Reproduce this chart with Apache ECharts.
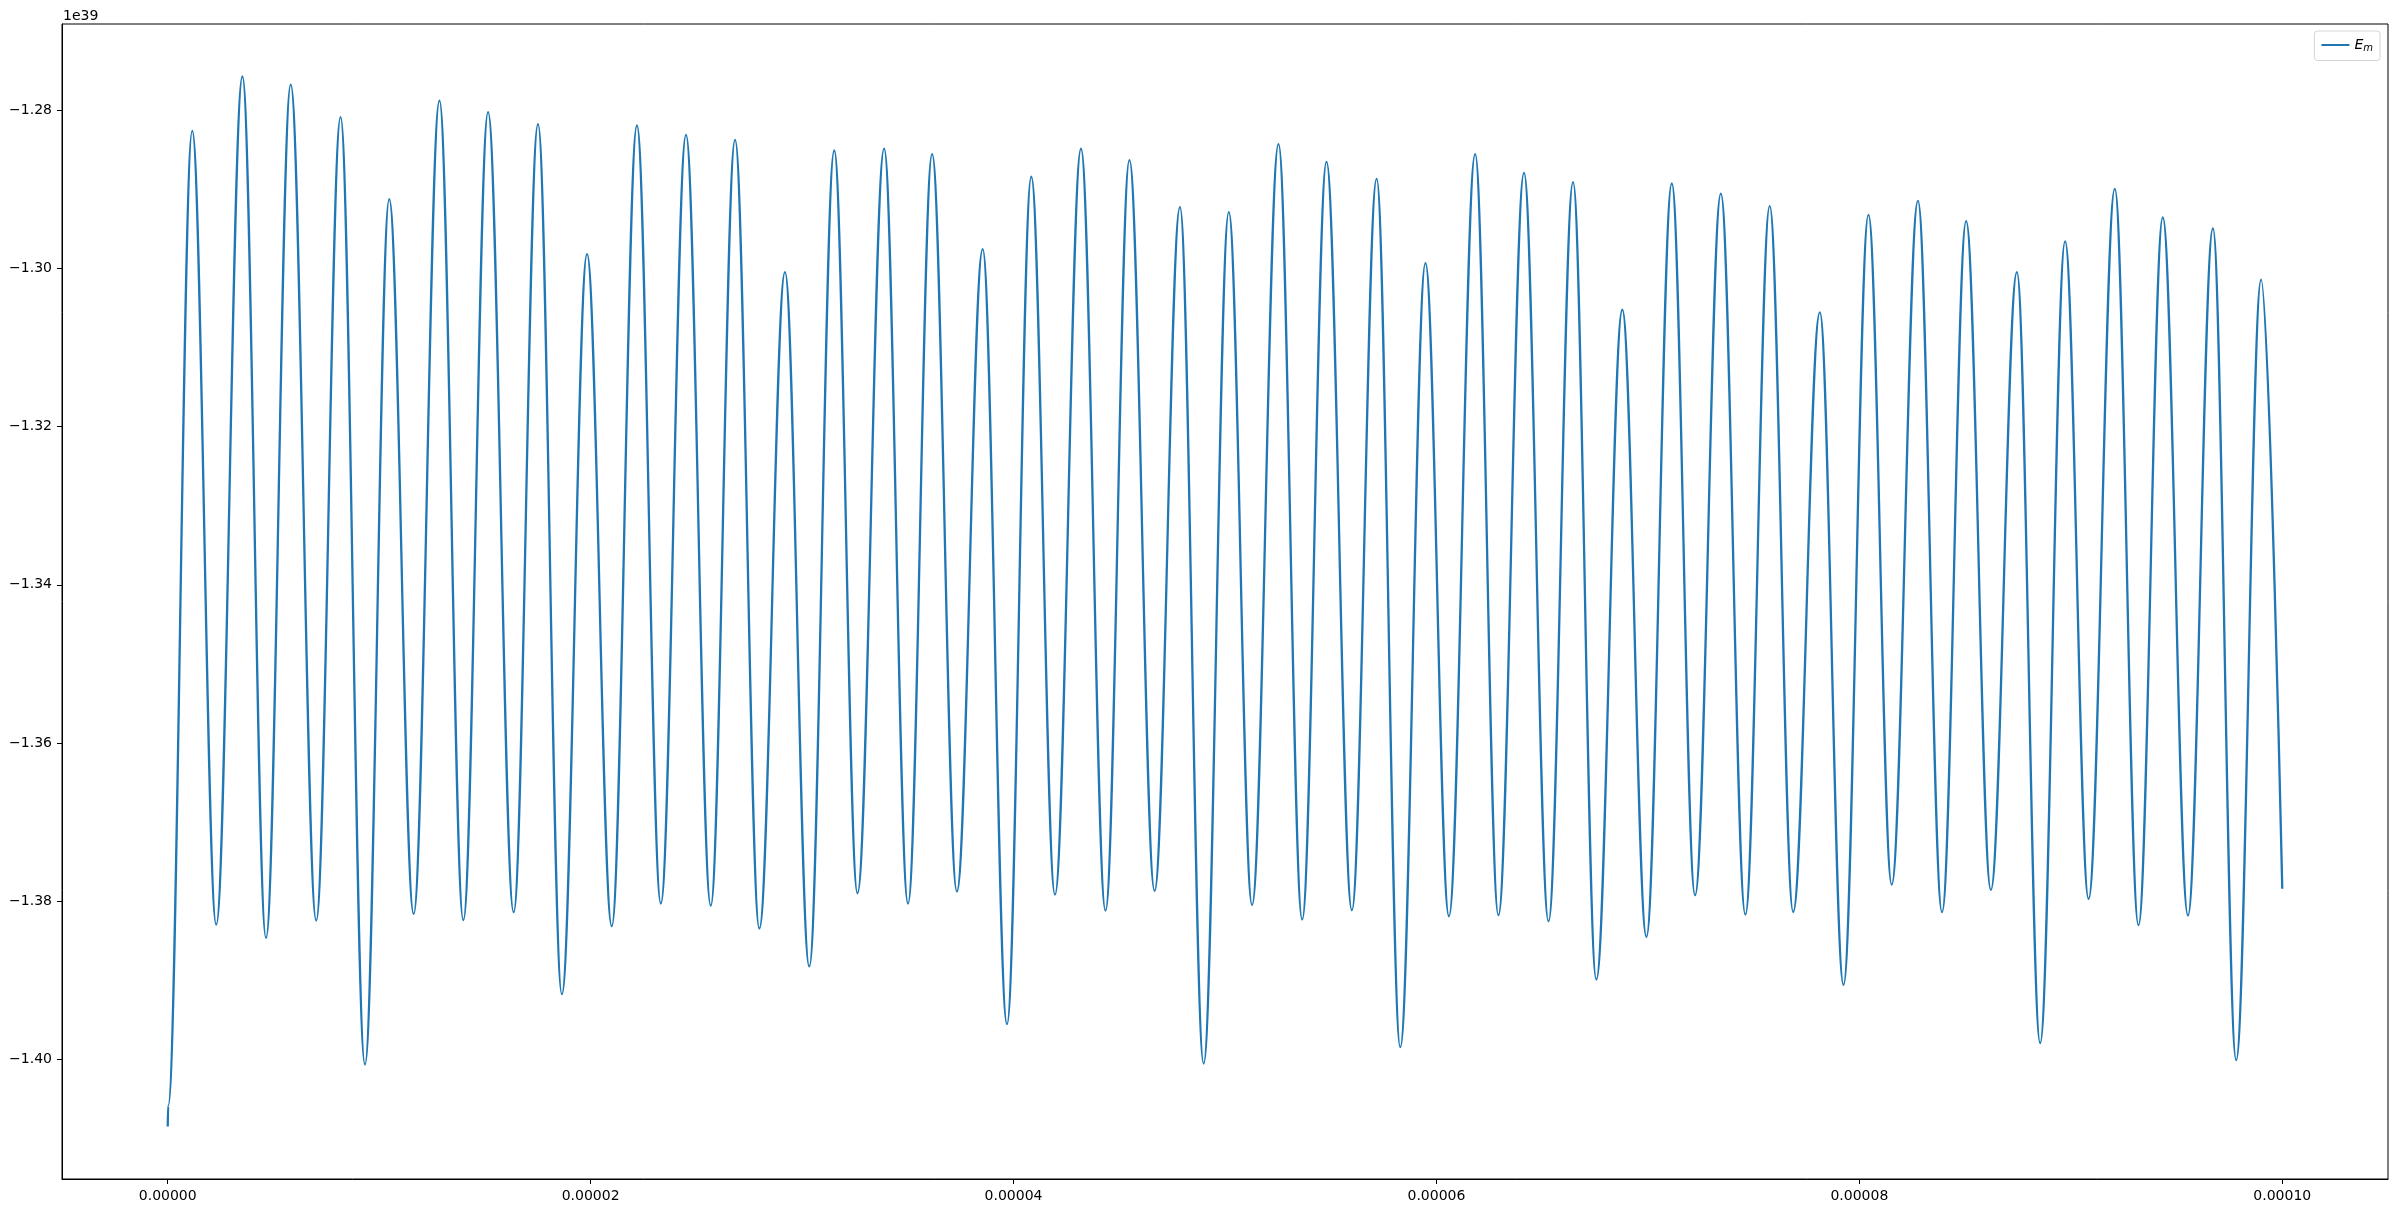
<!DOCTYPE html>
<html>
<head>
<meta charset="utf-8">
<title>E_m</title>
<script src="https://cdn.jsdelivr.net/npm/echarts@6/dist/echarts.min.js"></script>
<style>
  html, body { margin: 0; padding: 0; background: #fff; }
  #chart { width: 2397px; height: 1213px; }
</style>
</head>
<body>
<div id="chart"></div>
<script>
// times in microseconds, values in units of 1e39
const startTimeUs = [0, 0.02];
const startValue = [-1.4085, -1.4059];

const peakTimeUs = [1.159, 3.533, 5.817, 8.173, 10.476, 12.85, 15.15, 17.51, 19.83, 22.19,
  24.51, 26.83, 29.19, 31.52, 33.88, 36.15, 38.54, 40.84, 43.19, 45.48,
  47.87, 50.18, 52.53, 54.80, 57.17, 59.48, 61.83, 64.14, 66.46, 68.79,
  71.13, 73.45, 75.76, 78.13, 80.43, 82.77, 85.05, 87.45, 89.73, 92.08,
  94.35, 96.72, 99.0];
const peakValue = [-1.28258, -1.27571, -1.27673, -1.28085, -1.29121, -1.27875, -1.28021, -1.28173, -1.29817, -1.28191,
  -1.28308, -1.28372, -1.30044, -1.28507, -1.28482, -1.28553, -1.29754, -1.28839, -1.28485, -1.28629,
  -1.29223, -1.29286, -1.28426, -1.2865, -1.28865, -1.2993, -1.28553, -1.28789, -1.28907, -1.30521,
  -1.28924, -1.29051, -1.2921, -1.30555, -1.2932, -1.29143, -1.294, -1.30044, -1.29657, -1.28991,
  -1.29354, -1.29493, -1.30141];

const troughTimeUs = [2.294, 4.649, 7.023, 9.327, 11.63, 13.98, 16.36, 18.64, 21.0, 23.32,
  25.68, 27.98, 30.34, 32.62, 35.01, 37.32, 39.69, 41.96, 44.35, 46.67,
  48.99, 51.28, 53.65, 56.0, 58.29, 60.59, 62.93, 65.30, 67.56, 69.93,
  72.23, 74.61, 76.87, 79.25, 81.53, 83.91, 86.22, 88.55, 90.84, 93.20,
  95.54, 97.82];
const troughValue = [-1.38296, -1.38464, -1.38245, -1.40066, -1.3816, -1.38241, -1.3814, -1.39177, -1.38317, -1.3803,
  -1.38057, -1.38346, -1.38826, -1.379, -1.3803, -1.37878, -1.39556, -1.37917, -1.38119, -1.3787,
  -1.40054, -1.38047, -1.38232, -1.38115, -1.39847, -1.38191, -1.38178, -1.38254, -1.38991, -1.38451,
  -1.37925, -1.38169, -1.38135, -1.39058, -1.3779, -1.3814, -1.37857, -1.39796, -1.37971, -1.38304,
  -1.38182, -1.40011];

const endTimeUs = [100.0];
const endValue = [-1.37844];

const xTicks = [0, 0.00002, 0.00004, 0.00006, 0.00008, 0.0001];
const yTicks = [-1.40, -1.38, -1.36, -1.34, -1.32, -1.30, -1.28];
const offsetText = '1e39';

// 合并所有点并按时间排序
const points = [];
function addPoints(ts, vs) {
  for (let i = 0; i < ts.length; i++) points.push([ts[i] * 1e-6, vs[i]]);
}
addPoints(startTimeUs, startValue);
addPoints(peakTimeUs, peakValue);
addPoints(troughTimeUs, troughValue);
addPoints(endTimeUs, endValue);
points.sort((a, b) => a[0] - b[0]);

const font = 'DejaVu Sans';
// matplotlib 默认 5% 边距
const pad = (v) => (v.max - v.min) * 0.05;

const chart = echarts.init(document.getElementById('chart'), null, { renderer: 'canvas' });
chart.setOption({
  animation: false,
  backgroundColor: '#fff',
  grid: {
    left: 62, right: 9, top: 24, bottom: 34,
    show: true, borderColor: '#000', borderWidth: 1,
    containLabel: false, outerBoundsMode: 'none'
  },
  legend: {
    right: 17, top: 31,
    padding: [7, 7],
    icon: 'rect',
    itemWidth: 28, itemHeight: 2,
    borderColor: '#d5d5d5', borderWidth: 1, borderRadius: 3,
    backgroundColor: 'rgba(255,255,255,0.8)',
    formatter: () => '{e|E}{m|m}',
    textStyle: {
      fontFamily: font,
      rich: {
        e: { fontFamily: font, fontStyle: 'italic', fontSize: 14, color: '#000' },
        m: { fontFamily: font, fontStyle: 'italic', fontSize: 10, color: '#000', padding: [7, 0, 0, 0] }
      }
    }
  },
  graphic: [{
    type: 'text', left: 63, top: 9,
    style: { text: offsetText, font: '14px "DejaVu Sans"', fill: '#000' }
  }],
  xAxis: {
    type: 'value',
    min: (v) => v.min - pad(v),
    max: (v) => v.max + pad(v),
    splitLine: { show: false },
    axisLine: { show: true, onZero: false, lineStyle: { color: '#000', width: 1 } },
    axisTick: { show: true, length: 5, customValues: xTicks, lineStyle: { color: '#000', width: 1 } },
    axisLabel: {
      customValues: xTicks, margin: 10,
      fontFamily: font, fontSize: 14, color: '#000',
      formatter: (v) => v.toFixed(5)
    }
  },
  yAxis: {
    type: 'value',
    min: (v) => v.min - pad(v),
    max: (v) => v.max + pad(v),
    splitLine: { show: false },
    axisLine: { show: true, onZero: false, lineStyle: { color: '#000', width: 1 } },
    axisTick: { show: true, length: 5, customValues: yTicks, lineStyle: { color: '#000', width: 1 } },
    axisLabel: {
      customValues: yTicks, margin: 10,
      fontFamily: font, fontSize: 14, color: '#000',
      formatter: (v) => (v < 0 ? '\u2212' : '') + Math.abs(v).toFixed(2)
    }
  },
  series: [{
    name: 'E_m',
    type: 'line',
    data: points,
    symbol: 'none',
    showSymbol: false,
    smooth: 0.36,
    smoothMonotone: 'x',
    color: '#1f77b4',
    lineStyle: { color: '#1f77b4', width: 2.3 }
  }]
});
</script>
</body>
</html>
